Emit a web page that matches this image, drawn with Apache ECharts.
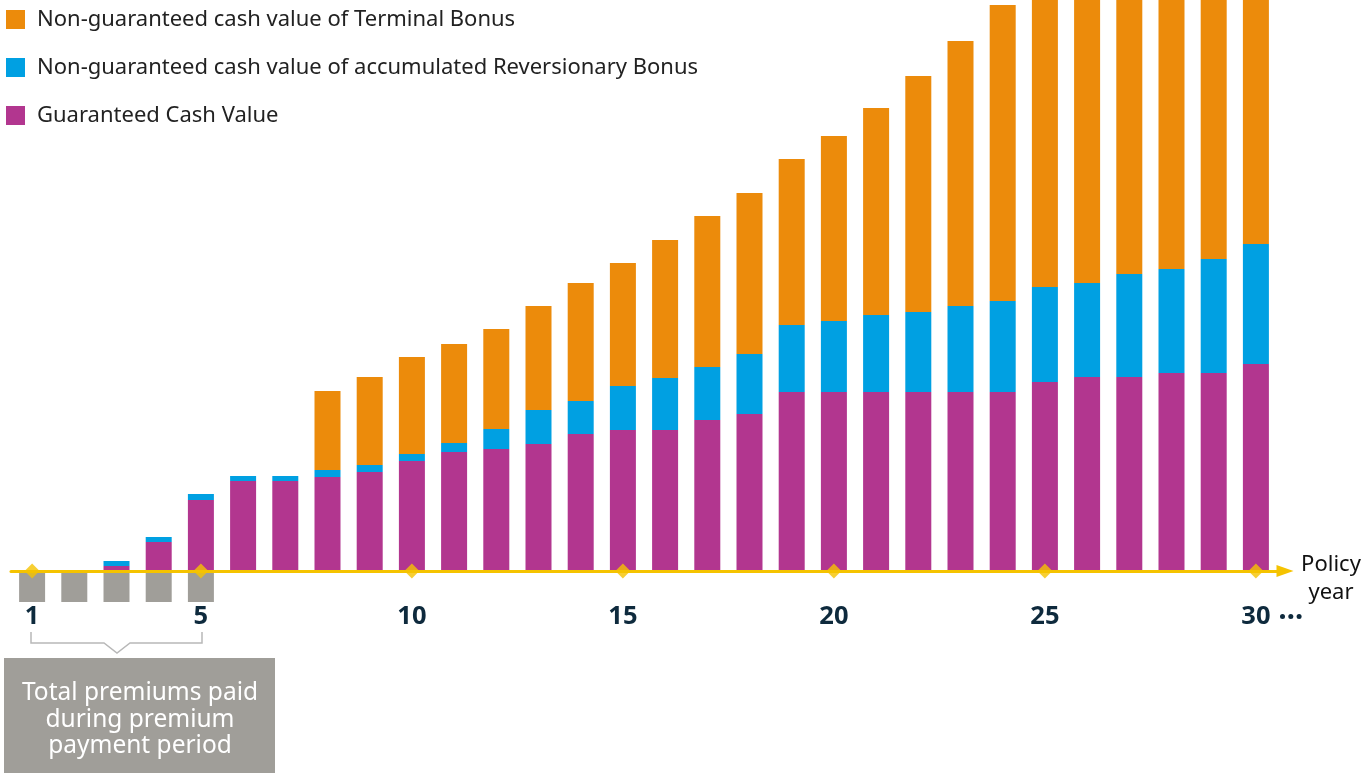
<!DOCTYPE html>
<html>
<head>
<meta charset="utf-8">
<title>Cash value by policy year</title>
<script src="https://cdn.jsdelivr.net/npm/echarts@6/dist/echarts.min.js"></script>
<style>
  html, body { margin: 0; padding: 0; background: #fff; }
  #chart { width: 1367px; height: 773px; }
</style>
</head>
<body>
<div id="chart"></div>
<script>
// policy years
const years = ['1', '2', '3', '4', '5', '6', '7', '8', '9', '10', '11', '12', '13', '14', '15',
  '16', '17', '18', '19', '20', '21', '22', '23', '24', '25', '26', '27', '28', '29', '30'];
const labelYears = ['1', '5', '10', '15', '20', '25', '30'];

// values (relative units)
const guaranteed = [0, 0, 5, 29, 71, 90, 90, 94, 99, 110, 119, 122, 127, 137, 141,
  141, 151, 157, 179, 179, 179, 179, 179, 179, 189, 194, 194, 198, 198, 207];
const reversionary = [0, 0, 5, 5, 6, 5, 5, 7, 7, 7, 9, 20, 34, 33, 44,
  52, 53, 60, 67, 71, 77, 80, 86, 91, 95, 94, 103, 104, 114, 120];
const terminal = [0, 0, 0, 0, 0, 0, 0, 79, 88, 97, 99, 100, 104, 118, 123,
  138, 151, 161, 166, 185, 207, 236, 265, 296, 319, 353, 383, 418, 449, 476];
const premiums = [-31, -31, -31, -31, -31, null, null, null, null, null, null, null, null, null, null,
  null, null, null, null, null, null, null, null, null, null, null, null, null, null, null];

const names = [
  'Non-guaranteed cash value of Terminal Bonus',
  'Non-guaranteed cash value of accumulated Reversionary Bonus',
  'Guaranteed Cash Value'
];

const chart = echarts.init(document.getElementById('chart'));

const option = {
  animation: false,
  textStyle: { fontFamily: 'Noto Sans' },
  grid: { left: 11, right: 90, top: 0, bottom: 202, outerBoundsMode: 'none', containLabel: false },
  legend: {
    data: names,
    orient: 'vertical',
    left: 1,
    top: 3,
    icon: 'rect',
    itemWidth: 19,
    itemHeight: 19,
    itemGap: 25,
    textStyle: {
      fontSize: 22,
      lineHeight: 23,
      color: '#222',
      padding: [0, 0, 0, 7]
    },
    selectedMode: false
  },
  xAxis: {
    type: 'category',
    data: years,
    z: 3,
    splitLine: { show: false },
    axisTick: { show: false },
    axisLine: {
      show: true,
      symbol: ['none', 'triangle'],
      symbolSize: [12, 17],
      symbolOffset: [0, 8],
      lineStyle: { color: '#f5c300', width: 3 }
    },
    axisLabel: {
      interval: (i, v) => labelYears.includes(v),
      margin: 33,
      fontSize: 25.5,
      fontWeight: 'bold',
      color: '#0e2a3d'
    }
  },
  yAxis: {
    type: 'value',
    min: 0,
    max: 571,
    show: false
  },
  series: [
    {
      name: 'premiums',
      type: 'bar',
      stack: 'total',
      barWidth: 26,
      clip: false,
      itemStyle: { color: '#a09e99' },
      data: premiums
    },
    {
      name: names[2],
      type: 'bar',
      stack: 'total',
      barWidth: 26,
      itemStyle: { color: '#b2368f' },
      data: guaranteed
    },
    {
      name: names[1],
      type: 'bar',
      stack: 'total',
      barWidth: 26,
      itemStyle: { color: '#00a0e2' },
      data: reversionary
    },
    {
      name: names[0],
      type: 'bar',
      stack: 'total',
      barWidth: 26,
      itemStyle: { color: '#ec8b0b' },
      data: terminal
    },
    {
      name: 'marks',
      type: 'scatter',
      symbol: 'diamond',
      symbolSize: [15, 15],
      clip: false,
      z: 5,
      itemStyle: { color: '#f5c300' },
      data: labelYears.map(y => [y, 0])
    }
  ],
  graphic: [
    {
      type: 'text',
      x: 1331,
      y: 579,
      style: {
        text: 'Policy\nyear',
        fontSize: 22,
        lineHeight: 28,
        fill: '#111',
        align: 'center',
        verticalAlign: 'middle',
        fontFamily: 'Noto Sans'
      }
    },
    { type: 'circle', shape: { cx: 1282.5, cy: 616.5, r: 2.5 }, style: { fill: '#0e2a3d' } },
    { type: 'circle', shape: { cx: 1290.8, cy: 616.5, r: 2.5 }, style: { fill: '#0e2a3d' } },
    { type: 'circle', shape: { cx: 1299.1, cy: 616.5, r: 2.5 }, style: { fill: '#0e2a3d' } },
    {
      type: 'polyline',
      shape: {
        points: [[31, 632], [31, 643], [104, 643], [117, 653], [130, 643], [202, 643], [202, 632]]
      },
      style: { stroke: '#b8b8b8', lineWidth: 1.5, fill: null }
    },
    {
      type: 'rect',
      shape: { x: 4, y: 658, width: 271, height: 115 },
      style: { fill: '#a09e99' }
    },
    {
      type: 'text',
      x: 140,
      y: 720,
      style: {
        text: 'Total premiums paid\nduring premium\npayment period',
        fontSize: 24.5,
        lineHeight: 26.5,
        fill: '#fff',
        align: 'center',
        verticalAlign: 'middle',
        fontFamily: 'Noto Sans'
      }
    }
  ]
};

chart.setOption(option);
</script>
</body>
</html>
